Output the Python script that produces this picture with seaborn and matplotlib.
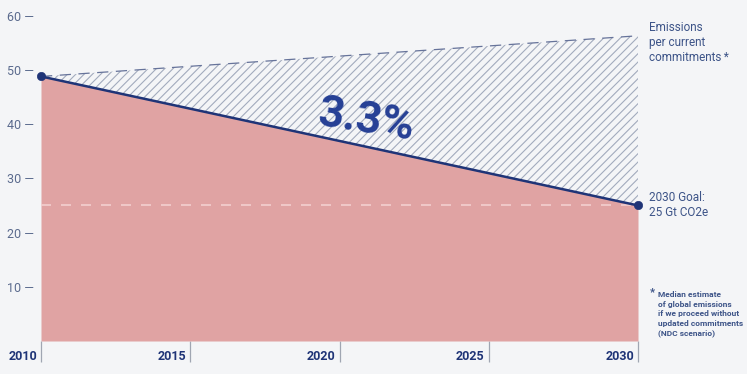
import matplotlib
matplotlib.use("Agg")
import matplotlib.pyplot as plt
import matplotlib.transforms as mtrans
import seaborn as sns
import pandas as pd

years = [2010, 2030]
current_commitments = [48.8, 56.3]
goal_path = [48.8, 25.0]
goal_level = 25
x_ticks = [2010, 2015, 2020, 2025, 2030]
y_ticks = [10, 20, 30, 40, 50, 60]
center_label = "3.3%"

BG = "#f4f5f7"
PINK = "#e0a3a3"
NAVY = "#1f3477"
TXT = "#3d5488"
HATCH = "#a3abbd"

sns.set_theme(style="white")
plt.rcParams["font.family"] = ["Roboto", "DejaVu Sans"]
plt.rcParams["hatch.linewidth"] = 0.8
plt.rcParams["hatch.color"] = HATCH

fig = plt.figure(figsize=(7.47, 3.74), dpi=100, facecolor=BG)
ax = fig.add_axes([41 / 747, 33 / 374, 597 / 747, 341 / 374])
ax.set_facecolor(BG)

df = pd.DataFrame({"year": years, "current": current_commitments, "goal": goal_path})

# hatched gap between commitments and goal
ax.fill_between(df["year"], df["goal"], df["current"], facecolor="none",
                edgecolor=HATCH, hatch="////", linewidth=0, zorder=1)
# pink area under goal path
ax.fill_between(df["year"], 0, df["goal"], color=PINK, linewidth=0, zorder=2)

# dashed upper line
sns.lineplot(data=df, x="year", y="current", ax=ax, color="#66739a",
             linewidth=0.9, zorder=3)
ax.lines[-1].set_linestyle((0, (9, 6)))

# goal line
sns.lineplot(data=df, x="year", y="goal", ax=ax, color=NAVY, linewidth=1.8, zorder=4)
sns.scatterplot(data=df, x="year", y="goal", ax=ax, color=NAVY, s=36,
                edgecolor=NAVY, zorder=5, clip_on=False)

# goal level dashed line
ax.axhline(goal_level, color="#f3cfcf", linewidth=1.2,
           linestyle=(0, (6, 6)), zorder=3)

ax.set_xlim(2010, 2030)
ax.set_ylim(0, 62.9)
for s in ax.spines.values():
    s.set_visible(False)

ax.set_yticks(y_ticks)
ax.set_yticklabels([f"{v} —" for v in y_ticks], color="#5b6b8e", fontsize=9)
ax.tick_params(axis="y", length=0, pad=5, left=False)

ax.set_xticks(x_ticks)
ax.set_xticklabels([])
ax.tick_params(axis="x", bottom=True, length=15, width=0.9, color="#a0a6b2",
               direction="out", pad=0)
ax.set_xlabel("")
ax.set_ylabel("")
tr = mtrans.blended_transform_factory(ax.transData, ax.transAxes)
off = mtrans.ScaledTranslation(-4 / 100, 0, fig.dpi_scale_trans)
for yr in x_ticks:
    ax.text(yr, -0.045, str(yr), transform=tr + off, ha="right", va="center",
            fontsize=9, fontweight="bold", color=NAVY)

ax.text(2020.9, 40.6, center_label, fontsize=32, fontweight="bold", color="#253f95",
        ha="center", va="center", rotation=-9, rotation_mode="anchor", zorder=6)

# right annotations
fig.text(649 / 747, 1 - 21 / 374, "Emissions\nper current\ncommitments\u2009*", fontsize=8.5,
         color=TXT, ha="left", va="top", linespacing=1.2)
fig.text(649 / 747, 1 - 191 / 374, "2030 Goal:\n25 Gt CO2e", fontsize=8.5,
         color=TXT, ha="left", va="top", linespacing=1.2)
fig.text(650 / 747, 1 - 287 / 374, "*", fontsize=8, fontweight="bold", color=TXT,
         ha="left", va="top")
fig.text(658 / 747, 1 - 291 / 374,
         "Median estimate\nof global emissions\nif we proceed without\nupdated commitments\n(NDC scenario)",
         fontsize=6, fontweight="bold", color=TXT, ha="left", va="top", linespacing=1.45)

legend = ax.get_legend()
if legend:
    legend.remove()

fig.savefig("out.png", dpi=100, facecolor=BG)
